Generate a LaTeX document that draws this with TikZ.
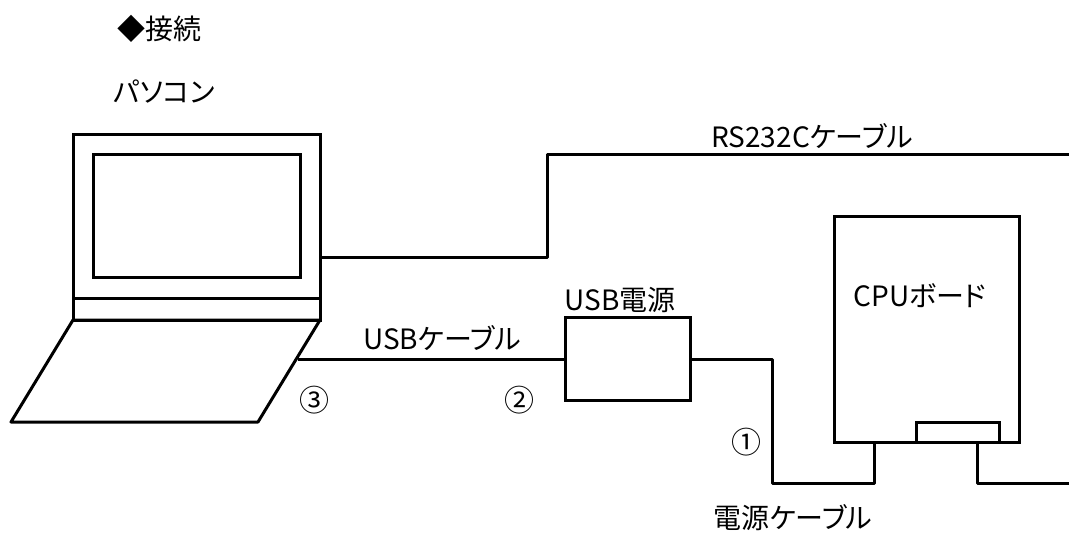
\documentclass[tikz,border=0pt]{standalone}
\usepackage{fontspec}
\setmainfont[RawFeature=+palt]{Noto Sans CJK JP}
\usetikzlibrary{calc}
\newcommand{\mylabelfont}{\fontsize{28}{32}\selectfont}
\tikzset{
    node style box/.style={draw,rectangle,line width=3pt,inner sep=0pt,outer sep=0pt},
    node style label/.style={font=\mylabelfont,inner sep=0pt,outer sep=0pt},
    node style num/.style={font=\fontsize{30}{34}\selectfont,inner sep=0pt,outer sep=0pt},
    line style cable/.style={line width=3pt,line join=round},
}
\begin{document}
\begin{tikzpicture}[x=1pt,y=-1pt]
 \useasboundingbox (0,0) rectangle (1069,535);

 \node [node style label] (title) at (159,29) {◆接続};
 \node [node style label] (pclabel) at (164,92) {パソコン};

 % laptop
 \node [node style box,minimum width=247pt,minimum height=186pt] (lid) at (196.5,227) {};
 \node [node style box,minimum width=207pt,minimum height=123pt] (screen) at (196.5,215.5) {};
 \coordinate (hingeleft) at (73,298);
 \coordinate (hingeright) at (320,298);
 \coordinate (baseleft) at (11,422);
 \coordinate (baseright) at (258,422);
 \draw [line style cable] (hingeleft)--(hingeright);
 \draw [line style cable] (lid.south west)--(lid.south east)--(baseright)--(baseleft)--cycle;

 % boxes
 \node [node style box,minimum width=125pt,minimum height=83pt] (usbpower) at (627.5,359) {};
 \node [node style box,minimum width=185pt,minimum height=226pt] (cpu) at (926.5,329) {};
 \node [node style box,minimum width=83pt,minimum height=20pt] (socket) at (957.5,432) {};

 % cables
 \coordinate (rsstart) at (320,257);
 \coordinate (rsend) at (1069,154);
 \coordinate (usbstart) at (298,359);
 \coordinate (pwrend) at (874,442);
 \coordinate (outstart) at (977,442);
 \coordinate (outend) at (1069,483);
 \draw [line style cable] (rsstart)--(547,257)--(547,154)--(rsend);
 \draw [line style cable] (usbstart)--(usbpower.west);
 \draw [line style cable] (usbpower.east)--(772,359)--(772,483)--(874,483)--(pwrend);
 \draw [line style cable] (outstart)--(977,483)--(outend);

 \node [node style label] (rslabel) at (812,136) {RS232Cケーブル};
 \node [node style label] (usbpowerlabel) at (620,300) {USB電源};
 \node [node style label] (cpulabel) at (920,296) {CPUボード};
 \node [node style label] (usblabel) at (442,338) {USBケーブル};
 \node [node style label] (pwrlabel) at (793,518) {電源ケーブル};

 \node [node style num] (numone) at (746,442) {①};
 \node [node style num] (numtwo) at (519,400) {②};
 \node [node style num] (numthree) at (314,400) {③};

\end{tikzpicture}
\end{document}
